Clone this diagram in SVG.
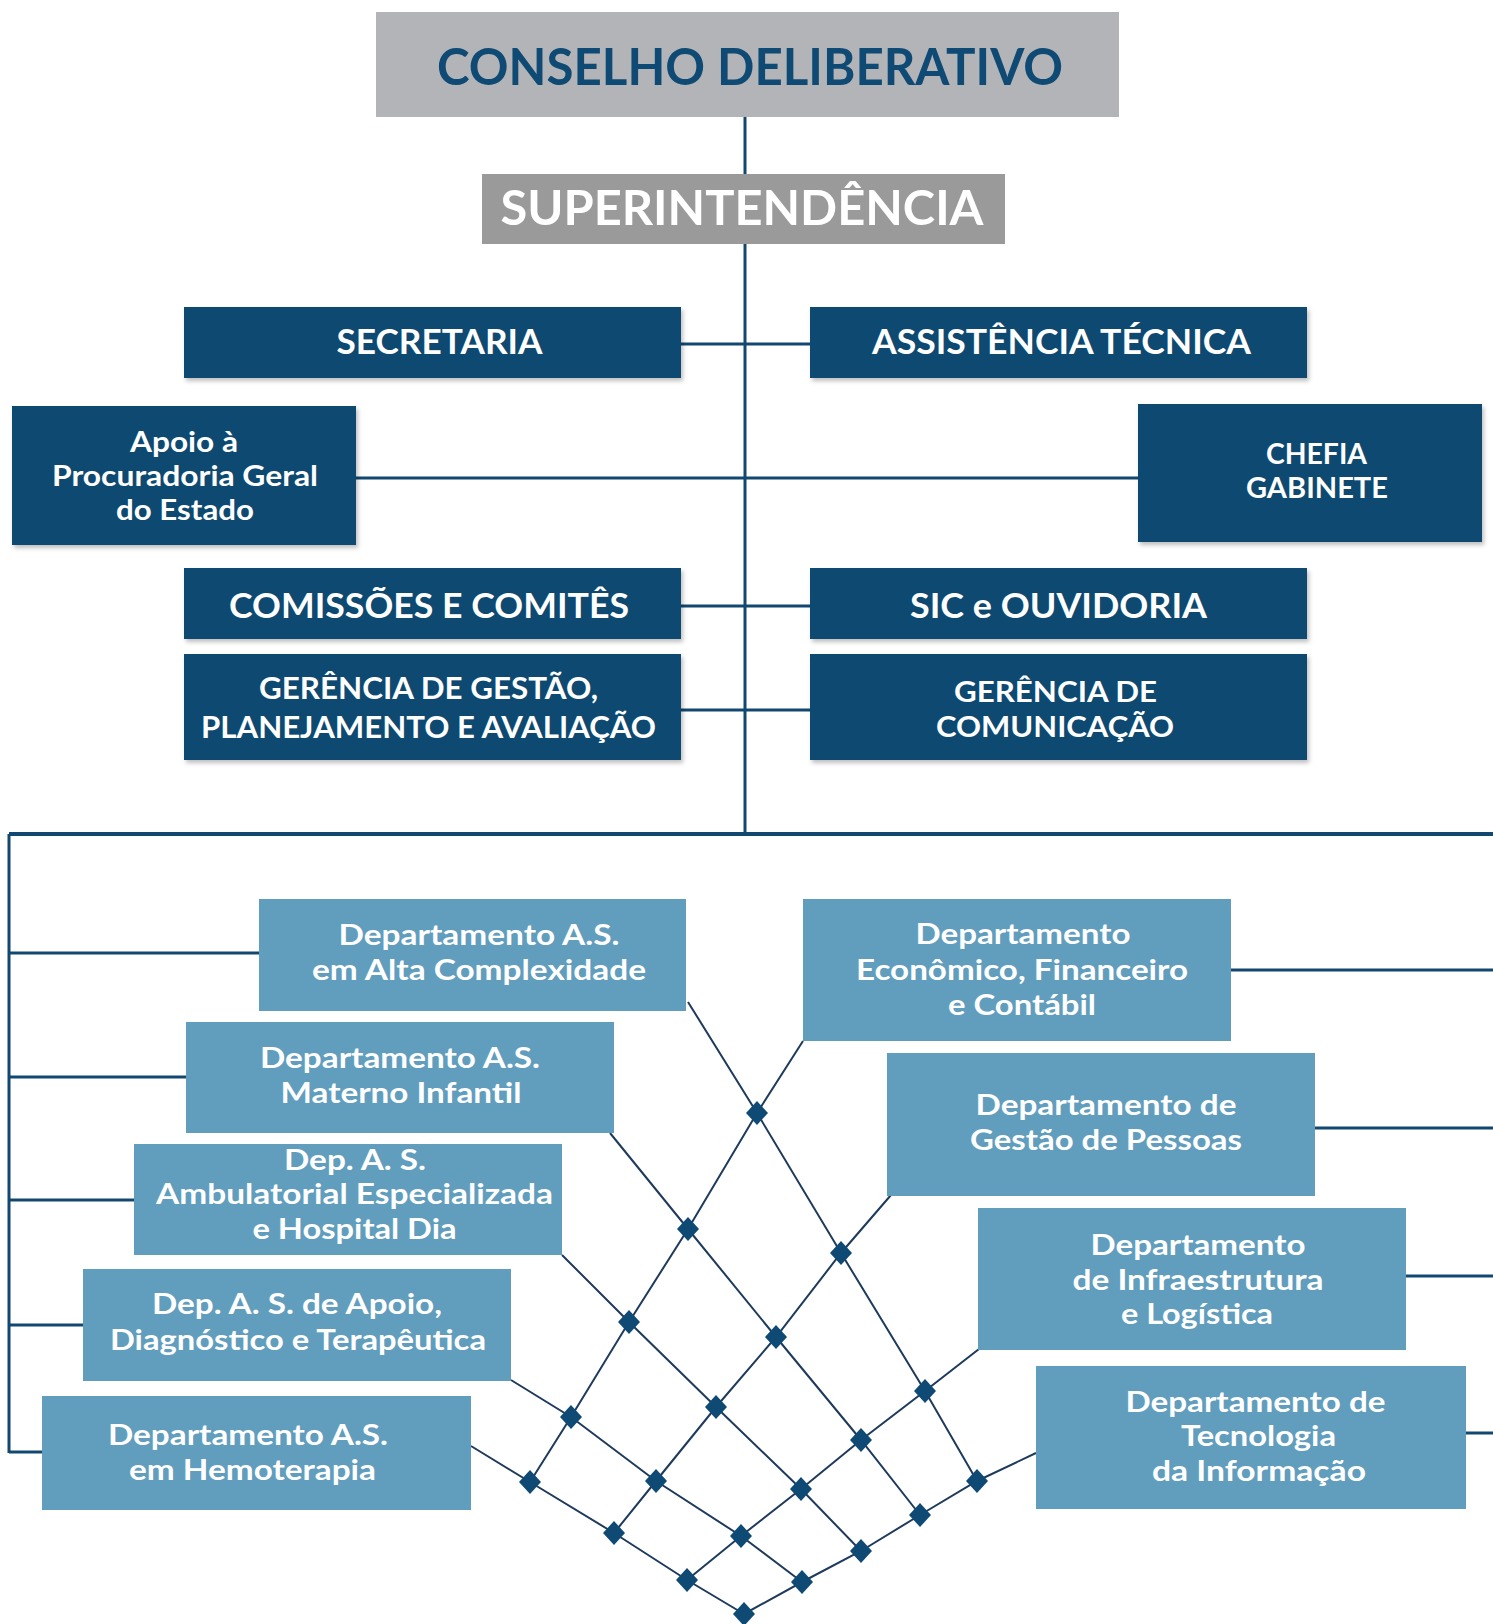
<svg xmlns="http://www.w3.org/2000/svg" width="1493" height="1624" viewBox="0 0 1493 1624">
<style>
text{font-family:"Lato","Open Sans","Liberation Sans",sans-serif;font-weight:bold;text-anchor:middle;fill:#ffffff}
.gray1{fill:#b2b4b7}
.gray2{fill:#9a9a9a}
.dark{fill:#0e4a71}
.light{fill:#619dbd}
.t1{font-size:52px;fill:#0e4a73}
.t2{font-size:48px}
.t3{font-size:34px}
.t4{font-size:31px}
.t4b{font-size:28px}
.t5{font-size:28px}
.t6{font-size:28px}
.conn{fill:none;stroke:#124870;stroke-width:3}
.bus{fill:none;stroke:#124870;stroke-width:4}
.lat{fill:none;stroke:#1e3a5c;stroke-width:2}
.dia{fill:#0f4a75}
</style>
<defs>
<filter id="sh" x="-5%" y="-5%" width="115%" height="120%">
<feDropShadow dx="2" dy="3" stdDeviation="2" flood-color="#000" flood-opacity="0.25"/>
</filter>
<polygon id="dm" points="0,-12 11,0 0,12 -11,0"/>
</defs>
<rect width="1493" height="1624" fill="#ffffff"/>

<g id="connectors">
<path class="conn" d="M745 117 V834"/>
<path class="conn" d="M681 344 H810"/>
<path class="conn" d="M356 478 H1138"/>
<path class="conn" d="M681 606 H810"/>
<path class="conn" d="M681 710 H810"/>
<path class="bus" d="M9 834 H1493"/>
<path class="conn" d="M9 834 V1453"/>
<path class="conn" d="M9 953 H259 M9 1077 H186 M9 1200 H134 M9 1325 H83 M9 1452 H42"/>
<path class="conn" d="M1231 970 H1493 M1315 1128 H1493 M1406 1276 H1493 M1466 1433 H1493"/>
<polyline class="lat" points="688,1002 757,1113 841,1253 925,1391 977,1481"/>
<polyline class="lat" points="610,1133 688,1229 776,1337 861,1440 920,1515"/>
<polyline class="lat" points="562,1255 629,1322 716,1407 801,1489 861,1551"/>
<polyline class="lat" points="511,1380 571,1417 656,1481 741,1536 802,1582"/>
<polyline class="lat" points="471,1446 530,1482 614,1533 687,1580 744,1614"/>
<polyline class="lat" points="803,1041 757,1113 688,1229 629,1322 571,1417 530,1482"/>
<polyline class="lat" points="891,1195 841,1253 776,1337 716,1407 656,1481 614,1533"/>
<polyline class="lat" points="979,1349 925,1391 861,1440 801,1489 741,1536 687,1580"/>
<polyline class="lat" points="1036,1453 977,1481 920,1515 861,1551 802,1582 744,1614"/>
<g class="dia">
<use href="#dm" x="757" y="1113"/><use href="#dm" x="841" y="1253"/><use href="#dm" x="925" y="1391"/><use href="#dm" x="977" y="1481"/>
<use href="#dm" x="688" y="1229"/><use href="#dm" x="776" y="1337"/><use href="#dm" x="861" y="1440"/><use href="#dm" x="920" y="1515"/>
<use href="#dm" x="629" y="1322"/><use href="#dm" x="716" y="1407"/><use href="#dm" x="801" y="1489"/><use href="#dm" x="861" y="1551"/>
<use href="#dm" x="571" y="1417"/><use href="#dm" x="656" y="1481"/><use href="#dm" x="741" y="1536"/><use href="#dm" x="802" y="1582"/>
<use href="#dm" x="530" y="1482"/><use href="#dm" x="614" y="1533"/><use href="#dm" x="687" y="1580"/><use href="#dm" x="744" y="1614"/>
</g>
</g>

<g id="conselho"><rect class="gray1" x="376" y="12" width="743" height="105"/>
<text class="t1" x="750" y="85" textLength="626" lengthAdjust="spacingAndGlyphs">CONSELHO DELIBERATIVO</text></g>
<g id="superintendencia"><rect class="gray2" x="482" y="174" width="523" height="70"/>
<text class="t2" x="742" y="225" textLength="483" lengthAdjust="spacingAndGlyphs">SUPERINTENDÊNCIA</text></g>

<g id="secretaria"><rect class="dark" filter="url(#sh)" x="184" y="307" width="497" height="71"/>
<text class="t3" x="439.5" y="354" textLength="206" lengthAdjust="spacingAndGlyphs">SECRETARIA</text></g>
<g id="assistencia"><rect class="dark" filter="url(#sh)" x="810" y="307" width="497" height="71"/>
<text class="t3" x="1061.5" y="354" textLength="379" lengthAdjust="spacingAndGlyphs">ASSISTÊNCIA TÉCNICA</text></g>
<g id="apoio-pge"><rect class="dark" filter="url(#sh)" x="12" y="406" width="344" height="139"/>
<text class="t5" x="184" y="452" textLength="108" lengthAdjust="spacingAndGlyphs">Apoio à</text>
<text class="t5" x="185" y="486" textLength="266" lengthAdjust="spacingAndGlyphs">Procuradoria Geral</text>
<text class="t5" x="185" y="520" textLength="138" lengthAdjust="spacingAndGlyphs">do Estado</text></g>
<g id="chefia"><rect class="dark" filter="url(#sh)" x="1138" y="404" width="344" height="138"/>
<text class="t5" x="1316.5" y="464" textLength="101" lengthAdjust="spacingAndGlyphs">CHEFIA</text>
<text class="t5" x="1317" y="498" textLength="142" lengthAdjust="spacingAndGlyphs">GABINETE</text></g>
<g id="comissoes"><rect class="dark" filter="url(#sh)" x="184" y="568" width="497" height="71"/>
<text class="t3" x="429" y="618" textLength="400" lengthAdjust="spacingAndGlyphs">COMISSÕES E COMITÊS</text></g>
<g id="sic"><rect class="dark" filter="url(#sh)" x="810" y="568" width="497" height="71"/>
<text class="t3" x="1058.5" y="618" textLength="297" lengthAdjust="spacingAndGlyphs">SIC e OUVIDORIA</text></g>
<g id="gerencia-gestao"><rect class="dark" filter="url(#sh)" x="184" y="654" width="497" height="106"/>
<text class="t4" x="428.5" y="699" textLength="339" lengthAdjust="spacingAndGlyphs">GERÊNCIA DE GESTÃO,</text>
<text class="t4" x="428.5" y="738" textLength="455" lengthAdjust="spacingAndGlyphs">PLANEJAMENTO E AVALIAÇÃO</text></g>
<g id="gerencia-comunicacao"><rect class="dark" filter="url(#sh)" x="810" y="654" width="497" height="106"/>
<text class="t4b" x="1055.5" y="702" textLength="203" lengthAdjust="spacingAndGlyphs">GERÊNCIA DE</text>
<text class="t4b" x="1055" y="737" textLength="238" lengthAdjust="spacingAndGlyphs">COMUNICAÇÃO</text></g>

<g id="dep-alta"><rect class="light" x="259" y="899" width="427" height="112"/>
<text class="t6" x="479" y="945" textLength="281" lengthAdjust="spacingAndGlyphs">Departamento A.S.</text>
<text class="t6" x="479" y="980" textLength="334" lengthAdjust="spacingAndGlyphs">em Alta Complexidade</text></g>
<g id="dep-materno"><rect class="light" x="186" y="1022" width="428" height="111"/>
<text class="t6" x="400" y="1068" textLength="280" lengthAdjust="spacingAndGlyphs">Departamento A.S.</text>
<text class="t6" x="401" y="1103" textLength="241" lengthAdjust="spacingAndGlyphs">Materno Infantil</text></g>
<g id="dep-ambulatorial"><rect class="light" x="134" y="1144" width="428" height="111"/>
<text class="t6" x="355" y="1170" textLength="142" lengthAdjust="spacingAndGlyphs">Dep. A. S.</text>
<text class="t6" x="354.5" y="1204" textLength="397" lengthAdjust="spacingAndGlyphs">Ambulatorial Especializada</text>
<text class="t6" x="354.5" y="1239" textLength="204" lengthAdjust="spacingAndGlyphs">e Hospital Dia</text></g>
<g id="dep-apoio"><rect class="light" x="83" y="1269" width="428" height="112"/>
<text class="t6" x="297" y="1314" textLength="290" lengthAdjust="spacingAndGlyphs">Dep. A. S. de Apoio,</text>
<text class="t6" x="298" y="1350" textLength="376" lengthAdjust="spacingAndGlyphs">Diagnóstico e Terapêutica</text></g>
<g id="dep-hemoterapia"><rect class="light" x="42" y="1396" width="429" height="114"/>
<text class="t6" x="248" y="1445" textLength="280" lengthAdjust="spacingAndGlyphs">Departamento A.S.</text>
<text class="t6" x="252.5" y="1480" textLength="247" lengthAdjust="spacingAndGlyphs">em Hemoterapia</text></g>

<g id="dep-economico"><rect class="light" x="803" y="899" width="428" height="142"/>
<text class="t6" x="1023" y="944" textLength="215" lengthAdjust="spacingAndGlyphs">Departamento</text>
<text class="t6" x="1022" y="980" textLength="332" lengthAdjust="spacingAndGlyphs">Econômico, Financeiro</text>
<text class="t6" x="1022" y="1015" textLength="148" lengthAdjust="spacingAndGlyphs">e Contábil</text></g>
<g id="dep-pessoas"><rect class="light" x="887" y="1053" width="428" height="143"/>
<text class="t6" x="1106" y="1115" textLength="261" lengthAdjust="spacingAndGlyphs">Departamento de</text>
<text class="t6" x="1106" y="1150" textLength="272" lengthAdjust="spacingAndGlyphs">Gestão de Pessoas</text></g>
<g id="dep-infra"><rect class="light" x="978" y="1208" width="428" height="142"/>
<text class="t6" x="1198" y="1255" textLength="215" lengthAdjust="spacingAndGlyphs">Departamento</text>
<text class="t6" x="1198" y="1290" textLength="251" lengthAdjust="spacingAndGlyphs">de Infraestrutura</text>
<text class="t6" x="1197" y="1324" textLength="152" lengthAdjust="spacingAndGlyphs">e Logística</text></g>
<g id="dep-ti"><rect class="light" x="1036" y="1366" width="430" height="143"/>
<text class="t6" x="1255.5" y="1412" textLength="260" lengthAdjust="spacingAndGlyphs">Departamento de</text>
<text class="t6" x="1258.5" y="1446" textLength="155" lengthAdjust="spacingAndGlyphs">Tecnologia</text>
<text class="t6" x="1259" y="1481" textLength="214" lengthAdjust="spacingAndGlyphs">da Informação</text></g>
</svg>
